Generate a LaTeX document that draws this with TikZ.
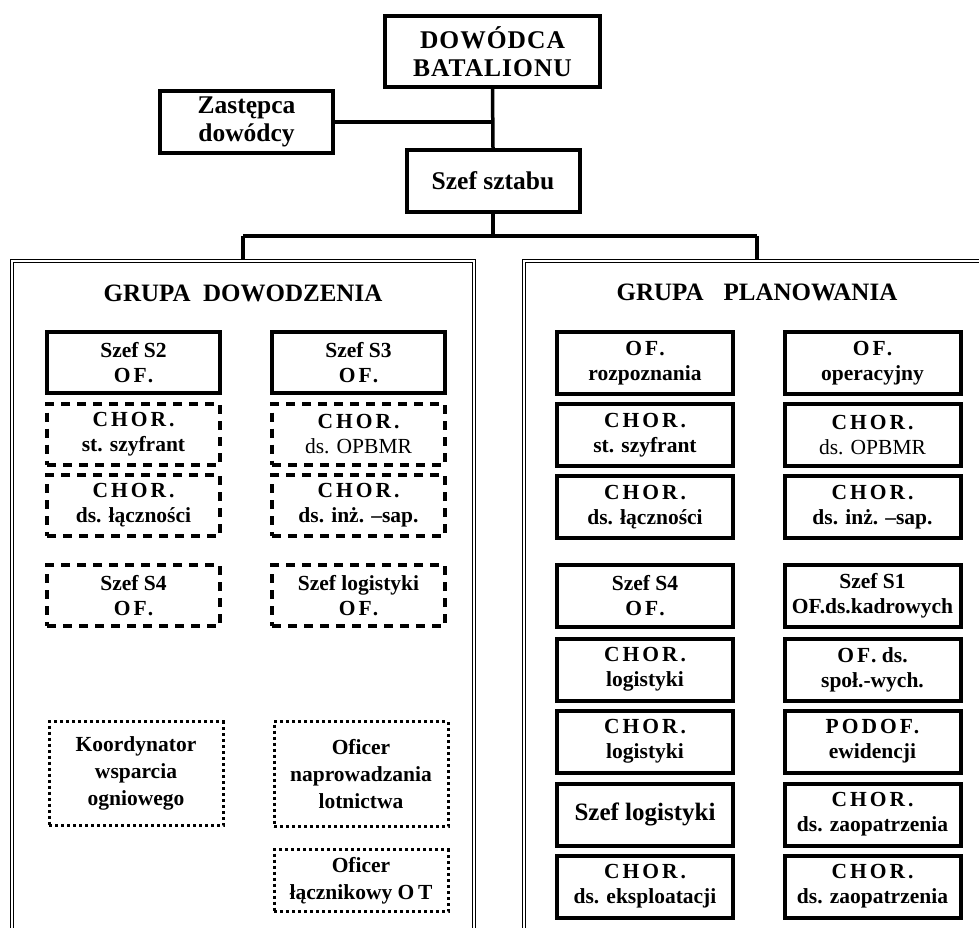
\documentclass[tikz,border=0pt]{standalone}
\usepackage{fontspec}
\setmainfont{Liberation Serif}
\newfontfamily\spc[LetterSpace=14]{Liberation Serif}
\newfontfamily\spcb[LetterSpace=4]{Liberation Serif Bold}
\newcommand\cp[1]{{\spc #1}}
\begin{document}
\begin{tikzpicture}[x=1pt,y=-1pt,
  conn/.style={line width=3.5pt},
  topbox/.style={draw, line width=4pt, align=center, inner sep=0pt,
    font=\fontsize{25.5}{28}\selectfont\bfseries},
  sbox/.style={draw, line width=4pt, align=center, inner sep=0pt,
    minimum width=173pt, minimum height=61pt,
    font=\fontsize{21.5}{25}\selectfont\bfseries},
  rbox/.style={sbox, minimum width=176pt, minimum height=62pt},
  dashbox/.style={sbox, dash pattern=on 9pt off 7pt},
  dotbox/.style={draw, line width=3pt, dash pattern=on 3pt off 3pt, align=center, inner sep=0pt,
    minimum width=174pt, font=\fontsize{21.5}{27}\selectfont\bfseries},
  grp/.style={double, line width=1.3pt, double distance=2pt},
  title/.style={font=\fontsize{25}{29}\selectfont\bfseries}]
\useasboundingbox (0,0) rectangle (979,927);
\clip (0,0) rectangle (979,927);
\fill[white] (0,0) rectangle (979,927);

% top
\node[topbox, minimum width=215pt, minimum height=71pt] (dow) at (492.5,51.5) {\spcb DOWÓDCA\\\spcb BATALIONU};
\node[topbox, minimum width=173pt, minimum height=62pt] (zas) at (246.5,122) {Zastępca\\dowódcy};
\node[topbox, minimum width=173pt, minimum height=62pt] (szef) at (493,181) {Szef sztabu};

\coordinate (hl) at (243,236);
\coordinate (hr) at (757,236);
\coordinate (gl) at (243,261);
\coordinate (gr) at (757,261);
\draw[conn] (dow.south) -- (szef.north);
\draw[conn] (zas.east) -- (zas.east -| dow.south);
\draw[conn] (szef.south) -- (szef.south |- hl);
\draw[conn] (hl) -- (hr);
\draw[conn] (hl) -- (gl);
\draw[conn] (hr) -- (gr);

% group frames
\draw[grp] (12,945) -- (12,261) -- (474,261) -- (474,945);
\draw[grp] (524,945) -- (524,261) -- (995,261);

\node[title] (tl) at (243,293) {GRUPA\hspace{0.5em}DOWODZENIA};
\node[title] (tr) at (757,292) {GRUPA\hspace{0.8em}PLANOWANIA};

% left group
\node[sbox] (a1) at (133.5,362.5) {Szef S2\\\cp{OF.}};
\node[sbox] (b1) at (358.5,362.5) {Szef S3\\\cp{OF.}};
\node[dashbox] (a2) at (133.5,434) {\cp{CHOR.}\\st. szyfrant};
\node[dashbox] (b2) at (358.5,434) {\cp{CHOR.}\\\mdseries ds. OPBMR};
\node[dashbox] (a3) at (133.5,505.5) {\cp{CHOR.}\\ds. łączności};
\node[dashbox] (b3) at (358.5,505.5) {\cp{CHOR.}\\ds. inż. –sap.};
\node[dashbox] (a4) at (133.5,595.5) {Szef S4\\\cp{OF.}};
\node[dashbox] (b4) at (358.5,595.5) {Szef logistyki\\\cp{OF.}};

\node[dotbox, minimum height=104pt] (k1) at (136,773.5) {Koordynator\\wsparcia\\ogniowego};
\node[dotbox, minimum height=105pt] (k2) at (361,774) {Oficer\\naprowadzania\\lotnictwa};
\node[dotbox, minimum height=62pt] (k3) at (361,880.5) {Oficer\\łącznikowy O\,T};

% right group
\node[rbox] (p1) at (645,363) {\cp{OF.}\\rozpoznania};
\node[rbox] (q1) at (872.5,363) {\cp{OF.}\\operacyjny};
\node[rbox] (p2) at (645,435) {\cp{CHOR.}\\st. szyfrant};
\node[rbox] (q2) at (872.5,435) {\cp{CHOR.}\\\mdseries ds. OPBMR};
\node[rbox] (p3) at (645,507) {\cp{CHOR.}\\ds. łączności};
\node[rbox] (q3) at (872.5,507) {\cp{CHOR.}\\ds. inż. –sap.};
\node[rbox] (p4) at (645,596) {Szef S4\\\cp{OF.}};
\node[rbox] (q4) at (872.5,596) {Szef S1\\OF.ds.kadrowych};
\node[rbox] (p5) at (645,669.5) {\cp{CHOR.}\\logistyki};
\node[rbox] (q5) at (872.5,669.5) {\cp{OF.} ds.\\społ.-wych.};
\node[rbox] (p6) at (645,741.5) {\cp{CHOR.}\\logistyki};
\node[rbox] (q6) at (872.5,741.5) {\cp{PODOF.}\\ewidencji};
\node[rbox, font=\fontsize{25}{28}\selectfont\bfseries] (p7) at (645,814.5) {Szef logistyki};
\node[rbox] (q7) at (872.5,814.5) {\cp{CHOR.}\\ds. zaopatrzenia};
\node[rbox] (p8) at (645,886.5) {\cp{CHOR.}\\ds. eksploatacji};
\node[rbox] (q8) at (872.5,886.5) {\cp{CHOR.}\\ds. zaopatrzenia};
\end{tikzpicture}
\end{document}
